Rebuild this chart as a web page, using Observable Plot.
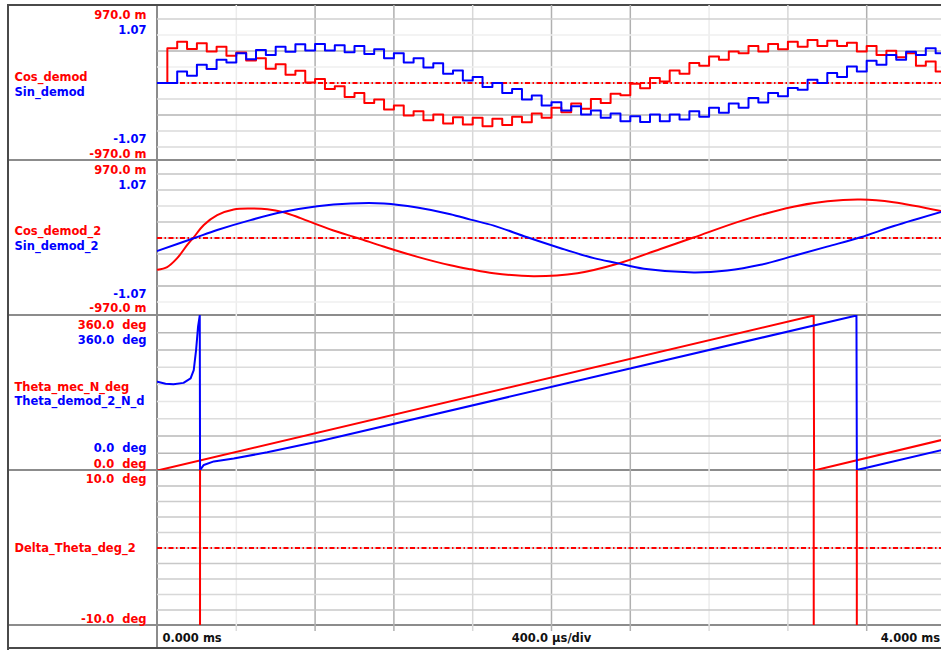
<!DOCTYPE html>
<html>
<head>
<meta charset="utf-8">
<script src="https://cdn.jsdelivr.net/npm/d3@7"></script>
<script src="https://cdn.jsdelivr.net/npm/@observablehq/plot@0.6"></script>
<style>
  html, body { margin: 0; padding: 0; background: #fff; overflow: hidden; }
  #chart { position: relative; width: 941px; height: 650px; overflow: hidden; background: #fff;
           font-family: "DejaVu Sans", sans-serif; }
  .sep { position: absolute; }
</style>
</head>
<body>
<div id="chart"></div>
<script>
// ---------------- DATA ----------------
const SAMPLE_MS = 0.05; // demodulated samples, one every 50 µs

// Panel 1 : staircase signals (one value per 50 µs sample)
const cosDemod = [
  0, 0.435, 0.517, 0.427, 0.497, 0.393, 0.455, 0.340, 0.381, 0.281,
  0.311, 0.178, 0.236, 0.103, 0.153, 0.007, 0.050, -0.075, -0.042, -0.174,
  -0.124, -0.249, -0.208, -0.332, -0.282, -0.407, -0.353, -0.465, -0.394, -0.506,
  -0.428, -0.519, -0.435, -0.540, -0.448, -0.527, -0.423, -0.490, -0.382, -0.435,
  -0.311, -0.366, -0.257, -0.323, -0.199, -0.249, -0.133, -0.154, -0.009, -0.067,
  0.062, 0.020, 0.157, 0.116, 0.249, 0.215, 0.331, 0.290, 0.393, 0.373,
  0.464, 0.393, 0.489, 0.423, 0.517, 0.455, 0.538, 0.464, 0.530, 0.464,
  0.505, 0.393, 0.464, 0.352, 0.405, 0.323, 0.373, 0.215, 0.269, 0.144
];
const sinDemod = [
  0, 0, 0.159, 0.100, 0.251, 0.192, 0.320, 0.283, 0.412, 0.329,
  0.457, 0.388, 0.502, 0.433, 0.535, 0.447, 0.539, 0.447, 0.521, 0.425,
  0.512, 0.402, 0.466, 0.343, 0.412, 0.283, 0.343, 0.214, 0.274, 0.128,
  0.173, 0.036, 0.082, -0.055, 0, -0.137, -0.082, -0.229, -0.174, -0.311,
  -0.266, -0.380, -0.321, -0.435, -0.380, -0.480, -0.421, -0.527, -0.458, -0.540,
  -0.435, -0.527, -0.435, -0.503, -0.390, -0.466, -0.343, -0.412, -0.284, -0.343,
  -0.206, -0.270, -0.137, -0.184, -0.069, -0.092, 0.045, 0, 0.137, 0.082,
  0.228, 0.159, 0.306, 0.251, 0.388, 0.320, 0.433, 0.388, 0.480, 0.412
];

// Panel 2 : smooth signals (time in ms)
const cos2Time  = [0, 0.049, 0.100, 0.151, 0.184, 0.235, 0.303, 0.387, 0.472, 0.558, 0.640, 0.726, 0.812, 0.893, 1.015, 1.147, 1.320, 1.487, 1.589, 1.706, 1.909, 2.132, 2.335, 2.553, 2.721, 2.975, 3.228, 3.401, 3.569, 3.736, 3.980];
const cos2Value = [-0.398, -0.364, -0.252, -0.087, 0.009, 0.162, 0.286, 0.357, 0.369, 0.361, 0.323, 0.249, 0.168, 0.093, 0, -0.106, -0.236, -0.342, -0.392, -0.441, -0.479, -0.441, -0.323, -0.137, 0.006, 0.224, 0.392, 0.460, 0.481, 0.448, 0.336];
const sin2Time  = [0, 0.184, 0.303, 0.472, 0.641, 0.811, 0.980, 1.149, 1.318, 1.487, 1.589, 1.707, 1.877, 2.046, 2.215, 2.334, 2.469, 2.722, 2.892, 3.061, 3.230, 3.399, 3.569, 3.738, 3.980];
const sin2Value = [-0.178, -0.004, 0.110, 0.247, 0.361, 0.439, 0.476, 0.476, 0.421, 0.329, 0.254, 0.171, 0.010, -0.141, -0.278, -0.347, -0.425, -0.476, -0.449, -0.370, -0.247, -0.119, 0.010, 0.165, 0.361];

// Panel 3 : angles in degrees
const thetaMecTime  = [0, 3.331, 3.333, 3.980];
const thetaMecValue = [0, 360, 0, 70.8];
const thetaDemTime  = [0, 0.041, 0.081, 0.132, 0.168, 0.184, 0.196, 0.206, 0.2145, 0.216, 0.235, 0.286, 0.387, 0.557, 0.827, 2.350, 3.548, 3.550, 3.980];
const thetaDemValue = [205.9, 201.7, 200.5, 203.5, 213.9, 233.3, 280.2, 334.9, 360, 1, 12.9, 21.1, 28.1, 42.2, 68.5, 231.7, 360, 1, 47.4];

// Panel 4 : angle error in degrees (mostly off scale)
const deltaTime  = [0, 0.1, 0.184, 0.2145, 0.216, 0.387, 0.827, 2.35, 3.331, 3.333, 3.548, 3.550, 3.980];
const deltaValue = [-206, -190, -213, -337, 22, 14, 21, 22, 23, -337, -337, 22, 23];

// Text
const p1Names  = ["Cos_demod", "Sin_demod"];
const p1Scale  = ["970.0 m", "1.07", "-1.07", "-970.0 m"];
const p2Names  = ["Cos_demod_2", "Sin_demod_2"];
const p2Scale  = ["970.0 m", "1.07", "-1.07", "-970.0 m"];
const p3Names  = ["Theta_mec_N_deg", "Theta_demod_2_N_d"];
const p3Scale  = ["360.0  deg", "360.0  deg", "0.0  deg", "0.0  deg"];
const p4Names  = ["Delta_Theta_deg_2"];
const p4Scale  = ["10.0  deg", "-10.0  deg"];
const xTickLabels = ["0.000 ms", "400.0 µs/div", "4.000 ms"];

// Grid divisions
const divTimes = [0.4, 0.8, 1.2, 1.6, 2.0, 2.4, 2.8, 3.2, 3.6];
const gridDemod = [0.8, 0.6, 0.4, 0.2, 0, -0.2, -0.4, -0.6, -0.8];
const gridTheta = [40, 80, 120, 160, 200, 240, 280, 320];
const gridDelta = [8, 6, 4, 2, 0, -2, -4, -6, -8];

// ---------------- STYLE ----------------
const RED = "#ff0000", BLUE = "#0000ff";
const W = 945, X0 = 157;
const xDomain = [0, 4];
const FONT_SIZE = 11.5;
const vShade = ["#ececec", "#b0b0b0", "#b0b0b0", "#d8d8d8", "#b0b0b0", "#b0b0b0", "#ececec", "#d8d8d8", "#b0b0b0"];
const hShade1 = ["#d0d0d0", "#efefef", "#b4b4b4", "#efefef", "#d0d0d0", "#dadada", "#b4b4b4", "#dadada", "#dadada"];
const hShade2 = ["#c4c4c4", "#cacaca", "#dedede", "#c4c4c4", "#d0d0d0", "#c8c8c8", "#dedede", "#b4b4b4", "#efefef"];
const hShade3 = ["#b8b8b8", "#b8b8b8", "#dcdcdc", "#e6e6e6", "#dcdcdc", "#dcdcdc", "#b8b8b8", "#b8b8b8"];
const hShade4 = ["#c0c0c0", "#cccccc", "#c8c8c8", "#d4d4d4", "#d0d0d0", "#c8c8c8", "#cccccc", "#d8d8d8", "#c8c8c8"];
const DASHDOT = "5,2.5,1.5,2.5";

const chart = document.getElementById("chart");

// frame & separators
[
  [7, 4, 940, 2, "#4a4a4a"],
  [7, 4, 2, 646, "#4a4a4a"],
  [7, 647, 940, 2, "#4a4a4a"],
  [9, 159, 935, 2, "#8c8c8c"],
  [9, 314, 935, 2, "#8c8c8c"],
  [9, 469, 935, 2, "#8c8c8c"],
  [9, 624, 935, 2, "#8c8c8c"],
  [156, 6, 2, 641, "#8c8c8c"]
].forEach(([l, t, w, h, c]) => {
  const d = document.createElement("div");
  d.className = "sep";
  Object.assign(d.style, {left: l + "px", top: t + "px", width: w + "px", height: h + "px", background: c});
  chart.appendChild(d);
});

const stepData = vals => vals.map((v, i) => ({t: i * SAMPLE_MS, v}))
  .concat([{t: vals.length * SAMPLE_MS, v: vals[vals.length - 1]}]);
const pairs = (ts, vs) => ts.map((t, i) => ({t, v: vs[i]}));

const txt = (s, dx, dy, fill, anchor) => Plot.text([s], {
  text: d => d, frameAnchor: "top-left", lineAnchor: "middle", dx, dy, fill, textAnchor: anchor,
  fontSize: FONT_SIZE, fontWeight: "bold"
});
const valLab = (s, dy, fill) => txt(s, -11, dy, fill, "end");
const nameLab = (s, dy, fill) => txt(s, -143, dy, fill, "start");

const vGrid = () => divTimes.map((t, i) => Plot.ruleX([t], {stroke: vShade[i], strokeWidth: 1.5}));
const hGrid = (vals, shades) => vals.map((v, i) => Plot.ruleY([v], {stroke: shades[i], strokeWidth: 1.5}));
const zeroLine = () => Plot.ruleY([0], {stroke: RED, strokeWidth: 2, strokeDasharray: DASHDOT});

function layer(top, h, yDomain, marks) {
  const svg = Plot.plot({
    width: W, height: h,
    marginLeft: X0, marginRight: 0, marginTop: 0, marginBottom: 0,
    x: {domain: xDomain, axis: null},
    y: {domain: yDomain, axis: null},
    style: {background: "transparent", maxWidth: "none", fontFamily: "'DejaVu Sans', sans-serif", overflow: "visible"},
    marks
  });
  Object.assign(svg.style, {position: "absolute", left: "0px", top: top + "px"});
  chart.appendChild(svg);
}

const lineOpts = (stroke, curve) => ({x: "t", y: "v", stroke, strokeWidth: 2, curve, clip: true});

// Panel 1
layer(5, 155, [-0.97, 0.97], [
  ...vGrid(), ...hGrid(gridDemod, hShade1), zeroLine(),
  Plot.line(stepData(cosDemod), lineOpts(RED, "step-after")),
  valLab(p1Scale[0], 9.5, RED), nameLab(p1Names[0], 71.5, RED), valLab(p1Scale[3], 148.5, RED)
]);
layer(5, 155, [-1.07, 1.07], [
  Plot.line(stepData(sinDemod), lineOpts(BLUE, "step-after")),
  valLab(p1Scale[1], 24.5, BLUE), nameLab(p1Names[1], 86.5, BLUE), valLab(p1Scale[2], 133.5, BLUE)
]);

// Panel 2
layer(160, 155, [-0.97, 0.97], [
  ...vGrid(), ...hGrid(gridDemod, hShade2), zeroLine(),
  Plot.line(pairs(cos2Time, cos2Value), lineOpts(RED, "catmull-rom")),
  valLab(p2Scale[0], 9.5, RED), nameLab(p2Names[0], 71, RED), valLab(p2Scale[3], 148, RED)
]);
layer(160, 155, [-1.07, 1.07], [
  Plot.line(pairs(sin2Time, sin2Value), lineOpts(BLUE, "catmull-rom")),
  valLab(p2Scale[1], 24.5, BLUE), nameLab(p2Names[1], 86, BLUE), valLab(p2Scale[2], 134, BLUE)
]);

// Panel 3
layer(315, 155, [0, 360], [
  ...vGrid(), ...hGrid(gridTheta, hShade3),
  Plot.line(pairs(thetaMecTime, thetaMecValue), lineOpts(RED, "linear")),
  valLab(p3Scale[0], 9.5, RED), nameLab(p3Names[0], 71.5, RED), valLab(p3Scale[3], 148.5, RED)
]);
layer(315, 155, [0, 360], [
  Plot.line(pairs(thetaDemTime, thetaDemValue), lineOpts(BLUE, "linear")),
  valLab(p3Scale[1], 24.5, BLUE), nameLab(p3Names[1], 86, BLUE), valLab(p3Scale[2], 133, BLUE)
]);

// Panel 4
layer(470, 155, [-10, 10], [
  ...vGrid(), ...hGrid(gridDelta, hShade4), zeroLine(),
  Plot.line(pairs(deltaTime, deltaValue), lineOpts(RED, "linear")),
  valLab(p4Scale[0], 9, RED), nameLab(p4Names[0], 78, RED), valLab(p4Scale[1], 149, RED)
]);

// Bottom time row
(function () {
  const svg = Plot.plot({
    width: W, height: 23,
    marginLeft: X0, marginRight: 0, marginTop: 0, marginBottom: 0,
    x: {domain: xDomain, axis: null},
    y: {domain: [0, 23], range: [0, 23], axis: null},
    style: {background: "transparent", maxWidth: "none", fontFamily: "'DejaVu Sans', sans-serif", overflow: "visible"},
    marks: [
      ...divTimes.map((t, i) => Plot.ruleX([t], {y1: 0, y2: 6, stroke: vShade[i] === "#ececec" ? "#dcdcdc" : vShade[i], strokeWidth: 1.5})),
      Plot.text([xTickLabels[0]], {text: d => d, x: 0, y: 13, dx: 5, textAnchor: "start", lineAnchor: "middle", fill: "#111", fontSize: FONT_SIZE, fontWeight: "bold"}),
      Plot.text([xTickLabels[1]], {text: d => d, x: 2, y: 13, textAnchor: "middle", lineAnchor: "middle", fill: "#111", fontSize: FONT_SIZE, fontWeight: "bold"}),
      Plot.text([xTickLabels[2]], {text: d => d, x: 4, y: 13, dx: -5.5, textAnchor: "end", lineAnchor: "middle", fill: "#111", fontSize: FONT_SIZE, fontWeight: "bold"})
    ]
  });
  Object.assign(svg.style, {position: "absolute", left: "0px", top: "625px"});
  chart.appendChild(svg);
})();
</script>
</body>
</html>
